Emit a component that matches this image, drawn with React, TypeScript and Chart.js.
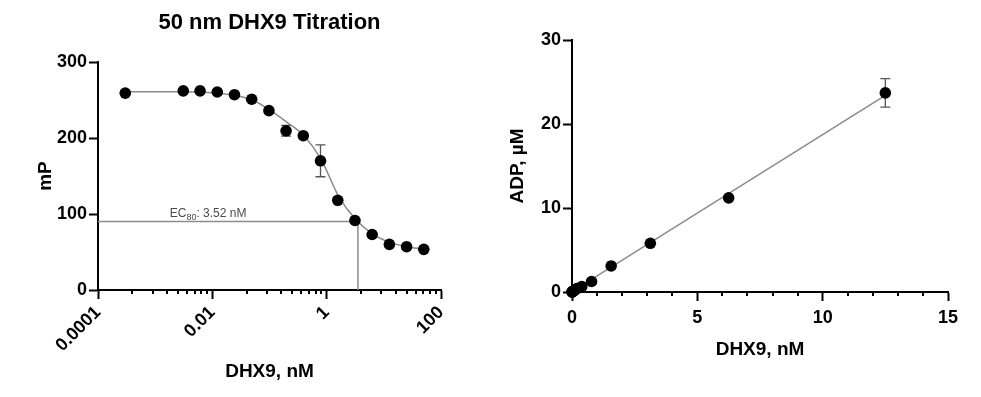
import React, { useEffect, useRef } from 'react';
import { Chart, registerables } from 'chart.js';

Chart.register(...registerables);

const FONT = "'Liberation Sans', Arial, Helvetica, sans-serif";

// ---------- Left panel: 50 nm DHX9 titration ----------
const titrationTitle = '50 nm DHX9 Titration';
const titrationConc = [0.0003, 0.0031, 0.0061, 0.0122, 0.0244, 0.0488, 0.0977, 0.195, 0.39, 0.78, 1.5625, 3.125, 6.25, 12.5, 25, 50];
const titrationMP = [259, 262, 262, 260.5, 257, 251, 236, 209.5, 203, 170, 118, 91.5, 73, 60, 57, 53.5];
const titrationErr = [0, 0, 0, 0, 0, 0, 0, 7, 0, 21, 0, 0, 0, 0, 0, 0];
const fitConc = [0.0003, 0.001, 0.003, 0.0125, 0.025, 0.05, 0.1, 0.2, 0.4, 0.8, 1.6, 3.2, 6.3, 12.5, 25, 50];
const fitMP = [261, 261, 260.8, 259, 256, 250, 237, 221, 203, 172, 124, 93, 74, 63, 57, 54];
const ec80Conc = 3.52;
const ec80MP = 90;
const ec80LabelAt = 0.0018;
const logMajorTicks = [0.0001, 0.01, 1, 100];
const logMajorLabels = ['0.0001', '0.01', '1', '100'];
const logMinorFactors = [4, 9, 16, 25, 36, 49, 64, 81];
const logMinorBases = [0.0001, 0.01, 1];
const mpTicks = [0, 100, 200, 300];

// ---------- Right panel: ADP vs DHX9 ----------
const adpConc = [0, 0.0061, 0.0122, 0.0244, 0.0488, 0.0977, 0.195, 0.39, 0.78, 1.5625, 3.125, 6.25, 12.5];
const adpUM = [0, 0.01, 0.02, 0.05, 0.1, 0.2, 0.4, 0.65, 1.25, 3.1, 5.8, 11.2, 23.7];
const adpErr = [0, 0, 0, 0, 0, 0, 0, 0, 0, 0, 0, 0, 1.7];
const adpFitConc = [0, 12.5];
const adpFitUM = [0.05, 23.4];
const adpXMinor = [1, 2, 3, 4, 6, 7, 8, 9, 11, 12, 13, 14];
const adpXTicks = [0, 5, 10, 15];
const adpYTicks = [0, 10, 20, 30];

const tickFont = { family: FONT, size: 18, weight: 'bold' as const };
const titleFont = { family: FONT, size: 19, weight: 'bold' as const };

function minorTickPlugin(values: number[], len: number) {
  return {
    id: 'minorTicks',
    afterDraw(chart: any) {
      const { ctx, chartArea, scales } = chart;
      const xs = scales.x;
      ctx.save();
      ctx.strokeStyle = '#000';
      ctx.lineWidth = 2;
      values.forEach((v) => {
        const px = Math.round(xs.getPixelForValue(v));
        ctx.beginPath();
        ctx.moveTo(px, chartArea.bottom);
        ctx.lineTo(px, chartArea.bottom + len);
        ctx.stroke();
      });
      ctx.restore();
    },
  };
}

function errorBarPlugin(xs: number[], ys: number[], errs: number[]) {
  return {
    id: 'errorBars',
    beforeDatasetsDraw(chart: any) {
      const { ctx, scales } = chart;
      ctx.save();
      ctx.strokeStyle = '#555';
      ctx.lineWidth = 1.3;
      xs.forEach((xv, i) => {
        const e = errs[i];
        if (!e) return;
        const px = scales.x.getPixelForValue(xv);
        const top = scales.y.getPixelForValue(ys[i] + e);
        const bot = scales.y.getPixelForValue(ys[i] - e);
        ctx.beginPath();
        ctx.moveTo(px, top);
        ctx.lineTo(px, bot);
        ctx.moveTo(px - 5, top);
        ctx.lineTo(px + 5, top);
        ctx.moveTo(px - 5, bot);
        ctx.lineTo(px + 5, bot);
        ctx.stroke();
      });
      ctx.restore();
    },
  };
}

const leftDecor = {
  id: 'leftDecor',
  beforeDatasetsDraw(chart: any) {
    const { ctx, chartArea, scales } = chart;
    const ex = scales.x.getPixelForValue(ec80Conc);
    const ey = scales.y.getPixelForValue(ec80MP);
    ctx.save();
    ctx.strokeStyle = '#8c8c8c';
    ctx.lineWidth = 1.5;
    ctx.beginPath();
    ctx.moveTo(chartArea.left, ey);
    ctx.lineTo(ex, ey);
    ctx.lineTo(ex, chartArea.bottom);
    ctx.stroke();
    // label
    ctx.fillStyle = '#4a4a4a';
    ctx.textBaseline = 'alphabetic';
    ctx.textAlign = 'left';
    let tx = scales.x.getPixelForValue(ec80LabelAt);
    const ty = ey - 5;
    ctx.font = `12px ${FONT}`;
    ctx.fillText('EC', tx, ty);
    tx += ctx.measureText('EC').width;
    ctx.font = `9px ${FONT}`;
    ctx.fillText('80', tx, ty + 3);
    tx += ctx.measureText('80').width;
    ctx.font = `12px ${FONT}`;
    ctx.fillText(': 3.52 nM', tx, ty);
    ctx.restore();
  },
  afterDraw(chart: any) {
    const { ctx, chartArea } = chart;
    ctx.save();
    ctx.fillStyle = '#000';
    ctx.font = `bold 22px ${FONT}`;
    ctx.textAlign = 'center';
    ctx.textBaseline = 'middle';
    ctx.fillText(titrationTitle, (chartArea.left + chartArea.right) / 2, 23);
    ctx.restore();
  },
};

function axisCommon() {
  return {
    grid: { drawOnChartArea: false, drawTicks: true, tickLength: 9, tickWidth: 2, tickColor: '#000' },
    border: { display: true, color: '#000', width: 2 },
  };
}

function LeftChart() {
  const ref = useRef<HTMLCanvasElement>(null);
  useEffect(() => {
    const minor: number[] = [];
    logMinorBases.forEach((b) => logMinorFactors.forEach((f) => minor.push(b * f)));
    const chart = new Chart(ref.current as HTMLCanvasElement, {
      type: 'scatter',
      data: {
        datasets: [
          {
            type: 'scatter',
            data: titrationConc.map((x, i) => ({ x, y: titrationMP[i] })),
            backgroundColor: '#000',
            borderColor: '#000',
            pointRadius: 5.8,
            pointBorderWidth: 0,
          },
          {
            type: 'line',
            data: fitConc.map((x, i) => ({ x, y: fitMP[i] })),
            borderColor: '#8a8a8a',
            borderWidth: 1.5,
            pointRadius: 0,
            cubicInterpolationMode: 'monotone',
            fill: false,
          } as any,
        ],
      },
      options: {
        animation: false,
        responsive: false,
        layout: { padding: { left: 0, right: 49, top: 62, bottom: 0 } },
        plugins: { legend: { display: false }, tooltip: { enabled: false }, title: { display: false } },
        scales: {
          x: {
            type: 'logarithmic',
            min: 0.0001,
            max: 100,
            ...axisCommon(),
            afterBuildTicks: (s: any) => {
              s.ticks = logMajorTicks.map((v) => ({ value: v }));
            },
            afterFit: (s: any) => {
              s.height = 107;
            },
            ticks: {
              autoSkip: false,
              minRotation: 45,
              maxRotation: 45,
              padding: 3,
              color: '#000',
              font: tickFont,
              callback: (v: any) => {
                const i = logMajorTicks.findIndex((t) => Math.abs(t - v) / t < 1e-6);
                return i >= 0 ? logMajorLabels[i] : '';
              },
            },
            title: { display: true, text: 'DHX9, nM', color: '#000', font: titleFont, padding: { top: 0, bottom: 14 } },
          } as any,
          y: {
            type: 'linear',
            min: 0,
            max: 300,
            ...axisCommon(),
            afterBuildTicks: (s: any) => {
              s.ticks = mpTicks.map((v) => ({ value: v }));
            },
            afterFit: (s: any) => {
              s.width = 98;
            },
            ticks: { padding: 2, color: '#000', font: tickFont },
            title: { display: true, text: 'mP', color: '#000', font: titleFont, padding: { top: 34, bottom: 0 } },
          } as any,
        },
      },
      plugins: [leftDecor, errorBarPlugin(titrationConc, titrationMP, titrationErr), minorTickPlugin(minor, 4)],
    });
    return () => chart.destroy();
  }, []);
  return <canvas ref={ref} width={490} height={397} style={{ position: 'absolute', left: 0, top: 0 }} />;
}

function RightChart() {
  const ref = useRef<HTMLCanvasElement>(null);
  useEffect(() => {
    const chart = new Chart(ref.current as HTMLCanvasElement, {
      type: 'scatter',
      data: {
        datasets: [
          {
            type: 'scatter',
            data: adpConc.map((x, i) => ({ x, y: adpUM[i] })),
            backgroundColor: '#000',
            borderColor: '#000',
            pointRadius: 5.8,
            pointBorderWidth: 0,
            clip: false,
          } as any,
          {
            type: 'line',
            data: adpFitConc.map((x, i) => ({ x, y: adpFitUM[i] })),
            borderColor: '#8a8a8a',
            borderWidth: 1.5,
            pointRadius: 0,
            fill: false,
          },
        ],
      },
      options: {
        animation: false,
        responsive: false,
        layout: { padding: { left: 0, right: 33, top: 40, bottom: 0 } },
        plugins: { legend: { display: false }, tooltip: { enabled: false }, title: { display: false } },
        scales: {
          x: {
            type: 'linear',
            min: 0,
            max: 15,
            ...axisCommon(),
            afterBuildTicks: (s: any) => {
              s.ticks = adpXTicks.map((v) => ({ value: v }));
            },
            afterFit: (s: any) => {
              s.height = 105;
            },
            ticks: { padding: 6, color: '#000', font: tickFont, maxRotation: 0 },
            title: { display: true, text: 'DHX9, nM', color: '#000', font: titleFont, padding: { top: 0, bottom: 36 } },
          } as any,
          y: {
            type: 'linear',
            min: 0,
            max: 30,
            ...axisCommon(),
            afterBuildTicks: (s: any) => {
              s.ticks = adpYTicks.map((v) => ({ value: v }));
            },
            afterFit: (s: any) => {
              s.width = 82;
            },
            ticks: { padding: 2, color: '#000', font: tickFont },
            title: { display: true, text: 'ADP, µM', color: '#000', font: titleFont, padding: { top: 16, bottom: 0 } },
          } as any,
        },
      },
      plugins: [errorBarPlugin(adpConc, adpUM, adpErr), minorTickPlugin(adpXMinor, 4)],
    });
    return () => chart.destroy();
  }, []);
  return <canvas ref={ref} width={491} height={397} style={{ position: 'absolute', left: 490, top: 0 }} />;
}

export default function App() {
  return (
    <div style={{ position: 'fixed', left: 0, top: 0, width: 981, height: 397, background: '#fff', overflow: 'hidden' }}>
      <LeftChart />
      <RightChart />
    </div>
  );
}
